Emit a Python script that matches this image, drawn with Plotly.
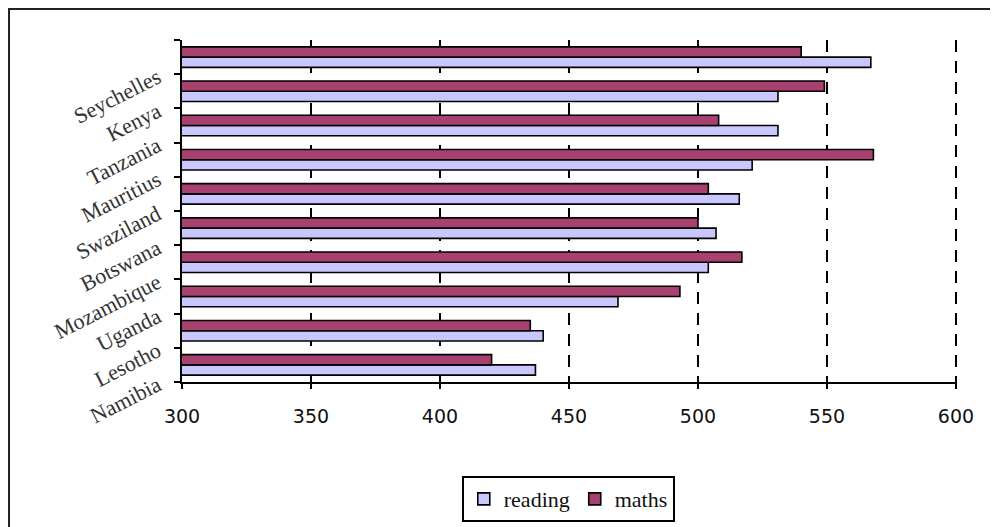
import plotly.graph_objects as go

# categories listed bottom -> top
countries = ["Namibia", "Lesotho", "Uganda", "Mozambique", "Botswana",
             "Swaziland", "Mauritius", "Tanzania", "Kenya", "Seychelles"]
reading = [437, 440, 469, 504, 507, 516, 521, 531, 531, 567]
maths = [420, 435, 493, 517, 500, 504, 568, 508, 549, 540]
x_ticks = [300, 350, 400, 450, 500, 550, 600]

fig = go.Figure()
fig.add_trace(go.Bar(
    y=countries, x=reading, name="reading", orientation="h",
    marker=dict(color="#C8C8FF", line=dict(color="#000000", width=1.6)),
))
fig.add_trace(go.Bar(
    y=countries, x=maths, name="maths", orientation="h",
    marker=dict(color="#A8416F", line=dict(color="#000000", width=1.6)),
))

fig.update_layout(
    width=998, height=527,
    margin=dict(l=174, r=49, t=32, b=153, autoexpand=False),
    paper_bgcolor="white", plot_bgcolor="white",
    barmode="group", bargap=0.4, bargroupgap=0,
    showlegend=True,
    legend=dict(
        orientation="h", x=0.361, xanchor="left", y=-0.275, yanchor="top",
        bordercolor="#000000", borderwidth=2,
        font=dict(family="Liberation Serif", size=22, color="#111111"),
        itemwidth=30, tracegroupgap=0,
    ),
    xaxis=dict(
        range=[300, 600.4], tickvals=x_ticks, ticktext=[str(v) for v in x_ticks],
        showgrid=True, gridcolor="#000000", gridwidth=2, griddash="12px,9px",
        showline=True, linecolor="#000000", linewidth=2,
        ticks="outside", ticklen=5, tickwidth=2, tickcolor="#000000",
        zeroline=False, automargin=False, ticklabelstandoff=11,
        tickfont=dict(family="DejaVu Sans", size=19, color="#111111"),
    ),
    yaxis=dict(
        categoryorder="array", categoryarray=countries,
        showgrid=False, zeroline=False, automargin=False,
        showline=True, linecolor="#000000", linewidth=2,
        ticks="outside", tickson="boundaries", ticklen=6, tickwidth=2,
        tickcolor="#000000", tickangle=-27, ticklabelshift=18,
        ticklabelstandoff=18,
        tickfont=dict(family="Liberation Serif", size=22, color="#333333"),
    ),
    shapes=[dict(
        type="rect", xref="paper", yref="paper",
        x0=-0.2232, x1=1.07, y0=-0.47, y1=1.0906,
        line=dict(color="#222222", width=2), fillcolor="rgba(0,0,0,0)",
        layer="above",
    )],
)

fig.write_html("out.html")
